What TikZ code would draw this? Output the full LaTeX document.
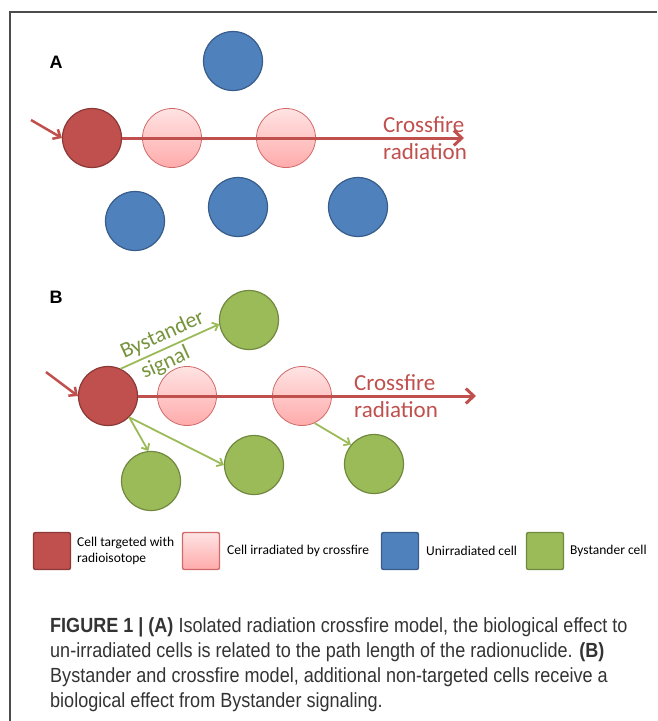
\documentclass[tikz,border=0pt]{standalone}
\usepackage{fontspec}
\setmainfont{Carlito}
\newfontfamily\capfont[FakeStretch=0.88]{Liberation Sans}
\newfontfamily\panelfont{Liberation Sans}
\usetikzlibrary{arrows.meta}
\definecolor{targred}{HTML}{C0504D}
\definecolor{targedge}{HTML}{8C3836}
\definecolor{pinktop}{HTML}{FFE3E3}
\definecolor{pinkbot}{HTML}{FFABAB}
\definecolor{pinkedge}{HTML}{D06A6A}
\definecolor{unblue}{HTML}{4F81BD}
\definecolor{unedge}{HTML}{385D8A}
\definecolor{bygreen}{HTML}{9BBB59}
\definecolor{byedge}{HTML}{71893F}
\definecolor{bytext}{HTML}{77933C}
\definecolor{captext}{HTML}{333333}

\begin{document}
\begin{tikzpicture}[x=1pt,y=-1pt,
    cell/.style={circle,minimum size=59pt,inner sep=0pt,line width=1.2pt},
    target/.style={cell,fill=targred,draw=targedge},
    crossed/.style={cell,top color=pinktop,bottom color=pinkbot,draw=pinkedge,line width=0.8pt},
    unirr/.style={cell,fill=unblue,draw=unedge},
    bystander/.style={cell,fill=bygreen,draw=byedge},
    ray/.style={draw=targred,line width=3pt,-{Straight Barb[length=8pt,width=15pt]}},
    inray/.style={draw=targred,line width=2.5pt,-{Straight Barb[length=6pt,width=11pt]}},
    signal/.style={draw=bygreen,line width=1.8pt,-{Straight Barb[length=5pt,width=9pt]}},
    raylabel/.style={text=targred,font=\fontsize{23}{27}\selectfont,align=left,anchor=west,inner sep=0pt},
    siglabel/.style={sloped,inner sep=3pt,text=bytext,font=\fontsize{22}{24}\selectfont},
    panel/.style={font=\panelfont\bfseries\fontsize{18}{20}\selectfont},
    legbox/.style={minimum width=37pt,minimum height=37pt,rounded corners=2pt,line width=1.4pt,inner sep=0pt},
    legtext/.style={font=\fontsize{13.5}{16}\selectfont,align=left,anchor=west,inner sep=0pt},
  ]
  \useasboundingbox (0,0) rectangle (657,721);
  % frame
  \draw[gray!60!black,line width=1.5pt] (657,12) -- (10,12) -- (10,721);

  % panel A: crossfire only
  \node[panel] (labA) at (56,62) {A};
  \node[target] (targA) at (92,138) {};
  \node[crossed] (crossA1) at (172,138) {};
  \node[crossed] (crossA2) at (286,138) {};
  \node[unirr] (unA1) at (233,61) {};
  \node[unirr] (unA2) at (135,221) {};
  \node[unirr] (unA3) at (238,207) {};
  \node[unirr] (unA4) at (358,207) {};
  \coordinate (inA) at (31,120);
  \coordinate (endA) at (464,138);
  \draw[inray] (inA) -- (targA.west);
  \draw[ray] (targA.east |- endA) -- (endA);
  \node[raylabel] (rayA) at (383,138) {Crossfire\\radiation};

  % panel B: crossfire and bystander
  \node[panel] (labB) at (56,297) {B};
  \node[target] (targB) at (108,396) {};
  \node[crossed] (crossB1) at (187,396) {};
  \node[crossed] (crossB2) at (302,396) {};
  \node[bystander] (byB1) at (249,320) {};
  \node[bystander] (byB2) at (151,481) {};
  \node[bystander] (byB3) at (254,465) {};
  \node[bystander] (byB4) at (374,464) {};
  \coordinate (inB) at (46,372);
  \coordinate (endB) at (476,396);
  \draw[inray] (inB) -- (targB.west);
  \draw[ray] (targB.east |- endB) -- (endB);
  \node[raylabel] (rayB) at (354,396) {Crossfire\\radiation};
  \draw[signal] (targB.65) -- (byB1.188)
    node[siglabel,pos=0.48,above] {Bystander}
    node[siglabel,pos=0.40,below] {signal};
  \draw[signal] (targB.-45) -- (byB2.95);
  \draw[signal] (targB.-45) -- (byB3.west);
  \draw[signal] (crossB2.-65) -- (byB4.140);

  % legend
  \node[legbox,fill=targred,draw=targedge] (keyTarg) at (52,551) {};
  \node[legtext] (txtTarg) at (77,551) {Cell targeted with\\radioisotope};
  \node[legbox,top color=pinktop,bottom color=pinkbot,draw=pinkedge] (keyCross) at (201,551) {};
  \node[legtext] (txtCross) at (227,551) {Cell irradiated by crossfire};
  \node[legbox,fill=unblue,draw=unedge] (keyUn) at (400,551) {};
  \node[legtext] (txtUn) at (426,551) {Unirradiated cell};
  \node[legbox,fill=bygreen,draw=byedge] (keyBy) at (545,551) {};
  \node[legtext] (txtBy) at (570,551) {Bystander cell};

  % caption
  \node[anchor=north west,align=left,text=captext,inner sep=0pt,
        font=\capfont\fontsize{20.5}{25.3}\selectfont] (caption) at (50,617)
    {\textbf{FIGURE 1 | (A)} Isolated radiation crossfire model, the biological effect to\\
     un-irradiated cells is related to the path length of the radionuclide. \textbf{(B)}\\
     Bystander and crossfire model, additional non-targeted cells receive a\\
     biological effect from Bystander signaling.};
\end{tikzpicture}
\end{document}
